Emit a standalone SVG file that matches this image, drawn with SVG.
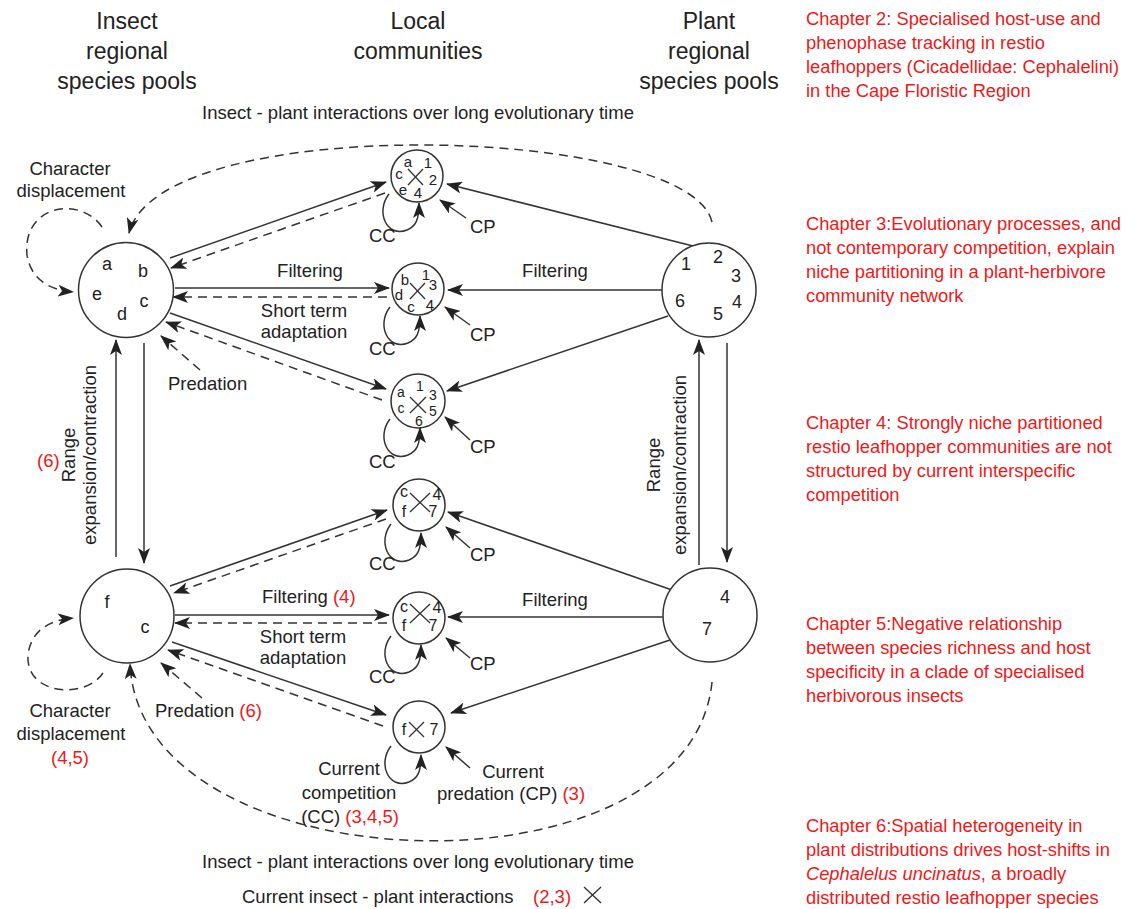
<svg xmlns="http://www.w3.org/2000/svg" width="1142" height="909" viewBox="0 0 1142 909">
<defs>
<marker id="ah" viewBox="0 0 16 12" refX="15" refY="6" markerWidth="16" markerHeight="12" markerUnits="userSpaceOnUse" orient="auto"><path d="M0,0 L16,6 L0,12 L4,6 z" fill="#222"/></marker>
<style>
text{font-family:"Liberation Sans",Arial,sans-serif;fill:#222}
.hd{font-size:23px;text-anchor:middle}
.lb{font-size:18.5px}
.c{text-anchor:middle}
.red{fill:#f01818}
.rc{font-size:18.3px;fill:#f01818}
.big{font-size:18px;text-anchor:middle}
.sm{font-size:15px;text-anchor:middle}
.sm3{font-size:14px;text-anchor:middle}
.sm2{font-size:16px;text-anchor:middle}
.nd{fill:#fff;stroke:#333;stroke-width:1.5}
.ln{fill:none;stroke:#333;stroke-width:1.5;marker-end:url(#ah)}
.ds{fill:none;stroke:#333;stroke-width:1.5;stroke-dasharray:9 6;marker-end:url(#ah)}
.x{stroke:#333;stroke-width:1.3}
</style>
</defs>
<rect width="1142" height="909" fill="#fff"/>

<g id="headers">
<text class="hd" x="127" y="29">Insect</text>
<text class="hd" x="127" y="59">regional</text>
<text class="hd" x="127" y="89">species pools</text>
<text class="hd" x="418" y="29">Local</text>
<text class="hd" x="418" y="59">communities</text>
<text class="hd" x="709" y="29">Plant</text>
<text class="hd" x="709" y="59">regional</text>
<text class="hd" x="709" y="89">species pools</text>
<text class="lb c" x="418" y="119">Insect - plant interactions over long evolutionary time</text>
</g>

<g id="connectors">
<path class="ds" d="M712 222 C690 125 160 110 129 233"/>
<path class="ds" d="M712 682 C690 905 140 888 130 664"/>
<path class="ds" d="M102 227 C80 195 22 205 27 255 C31 280 50 290 73 292"/>
<path class="ds" d="M103 673 C85 700 25 695 28 655 C31 630 50 620 73 618"/>
<path class="ln" d="M116 557 L116 340"/>
<path class="ln" d="M144 343 L144 563"/>
<path class="ln" d="M699 565 L699 340"/>
<path class="ln" d="M727 343 L727 562"/>
<path class="ln" d="M170 258 L386 182"/>
<path class="ds" d="M385 193 L171 268"/>
<path class="ln" d="M175 288 L389 288"/>
<path class="ds" d="M387 297 L173 297"/>
<path class="ln" d="M170 313 L386 389"/>
<path class="ds" d="M382 400 L166 322"/>
<path class="ds" d="M200 370 L161 336"/>
<path class="ln" d="M170 586 L387 510"/>
<path class="ds" d="M386 519 L174 593"/>
<path class="ln" d="M175 615 L389 615"/>
<path class="ds" d="M387 623 L175 623"/>
<path class="ln" d="M172 642 L386 715"/>
<path class="ds" d="M383 726 L168 650"/>
<path class="ds" d="M202 698 L161 663"/>
<path class="ln" d="M697 247 L447 184"/>
<path class="ln" d="M662 290 L448 290"/>
<path class="ln" d="M668 316 L447 391"/>
<path class="ln" d="M672 590 L448 512"/>
<path class="ln" d="M663 617 L448 617"/>
<path class="ln" d="M670 640 L451 713"/>
<path class="ln" d="M389 194 C375 212 387 238 407 230 C416 226 419 220 419 203"/>
<path class="ln" d="M390 307 C376 325 388 351 408 343 C417 339 420 333 420 316"/>
<path class="ln" d="M390 419 C376 437 388 463 408 455 C417 451 420 445 420 428"/>
<path class="ln" d="M391 524 C377 542 389 568 409 560 C418 556 421 550 421 533"/>
<path class="ln" d="M391 636 C377 654 389 680 409 672 C418 668 421 662 421 645"/>
<path class="ln" d="M391 746 C377 764 389 790 409 782 C418 778 421 772 421 755"/>
<path class="ln" d="M466 218 L440 200"/>
<path class="ln" d="M470 325 L445 307"/>
<path class="ln" d="M470 440 L445 417"/>
<path class="ln" d="M470 548 L446 527"/>
<path class="ln" d="M470 658 L446 638"/>
<path class="ln" d="M470 768 L446 747"/>
</g>

<g id="insect-pool-1">
<circle class="nd" cx="126" cy="290" r="47.5"/>
<text class="big" x="107" y="270">a</text>
<text class="big" x="143" y="277">b</text>
<text class="big" x="97" y="300">e</text>
<text class="big" x="144" y="307">c</text>
<text class="big" x="122" y="320">d</text>
</g>
<g id="insect-pool-2">
<circle class="nd" cx="127" cy="616" r="47"/>
<text class="big" x="107" y="608">f</text>
<text class="big" x="145" y="633">c</text>
</g>
<g id="plant-pool-1">
<circle class="nd" cx="709" cy="290" r="47"/>
<text class="big" x="686" y="270">1</text>
<text class="big" x="718" y="263">2</text>
<text class="big" x="736" y="282">3</text>
<text class="big" x="680" y="307">6</text>
<text class="big" x="737" y="308">4</text>
<text class="big" x="718" y="320">5</text>
</g>
<g id="plant-pool-2">
<circle class="nd" cx="710" cy="615" r="47"/>
<text class="big" x="725" y="603">4</text>
<text class="big" x="707" y="635">7</text>
</g>

<g id="community-1">
<circle class="nd" cx="417" cy="176" r="26"/>
<line class="x" x1="408" y1="169" x2="423" y2="185"/><line class="x" x1="408" y1="185" x2="423" y2="169"/>
<text class="sm" x="408" y="167">a</text><text class="sm" x="428" y="168">1</text>
<text class="sm" x="399" y="179">c</text><text class="sm" x="433" y="185">2</text>
<text class="sm" x="403" y="195">e</text><text class="sm" x="418" y="198">4</text>
</g>
<g id="community-2">
<circle class="nd" cx="418" cy="289" r="26"/>
<line class="x" x1="410" y1="283" x2="425" y2="299"/><line class="x" x1="410" y1="299" x2="425" y2="283"/>
<text class="sm" x="405" y="285">b</text><text class="sm" x="426" y="280">1</text>
<text class="sm" x="433" y="290">3</text><text class="sm" x="399" y="300">d</text>
<text class="sm" x="411" y="312">c</text><text class="sm" x="430" y="310">4</text>
</g>
<g id="community-3">
<circle class="nd" cx="418" cy="401" r="27"/>
<line class="x" x1="410" y1="397" x2="426" y2="413"/><line class="x" x1="410" y1="413" x2="426" y2="397"/>
<text class="sm3" x="420" y="391">1</text><text class="sm3" x="401" y="397">a</text>
<text class="sm3" x="433" y="400">3</text><text class="sm3" x="401" y="413">c</text>
<text class="sm3" x="433" y="416">5</text><text class="sm3" x="419" y="426">6</text>
</g>
<g id="community-4">
<circle class="nd" cx="419" cy="505" r="26"/>
<line class="x" x1="410" y1="493" x2="430" y2="512"/><line class="x" x1="410" y1="512" x2="430" y2="493"/>
<text class="sm2" x="404" y="497">c</text><text class="sm2" x="437" y="500">4</text>
<text class="sm2" x="404" y="517">f</text><text class="sm2" x="433" y="517">7</text>
</g>
<g id="community-5">
<circle class="nd" cx="419" cy="618" r="26"/>
<line class="x" x1="410" y1="604" x2="430" y2="623"/><line class="x" x1="410" y1="623" x2="430" y2="604"/>
<text class="sm2" x="404" y="612">c</text><text class="sm2" x="437" y="613">4</text>
<text class="sm2" x="404" y="631">f</text><text class="sm2" x="433" y="631">7</text>
</g>
<g id="community-6">
<circle class="nd" cx="419" cy="727" r="26"/>
<line class="x" x1="409" y1="722" x2="424" y2="737"/><line class="x" x1="409" y1="737" x2="424" y2="722"/>
<text class="sm2" x="404" y="735">f</text><text class="sm2" x="434" y="735">7</text>
</g>

<g id="labels">
<text class="lb c" x="70" y="175">Character</text>
<text class="lb c" x="71" y="197">displacement</text>
<text class="lb" x="168" y="390">Predation</text>
<text class="lb c" x="310" y="277">Filtering</text>
<text class="lb c" x="304" y="317">Short term</text>
<text class="lb c" x="304" y="338">adaptation</text>
<text class="lb c" x="555" y="277">Filtering</text>
<text class="lb c" transform="translate(75,455) rotate(-90)">Range</text>
<text class="lb c" transform="translate(96,455) rotate(-90)">expansion/contraction</text>
<text class="lb red" x="37" y="467">(6)</text>
<text class="lb c" transform="translate(660,465) rotate(-90)">Range</text>
<text class="lb c" transform="translate(686,465) rotate(-90)">expansion/contraction</text>
<text class="lb" x="262" y="603">Filtering <tspan class="red">(4)</tspan></text>
<text class="lb c" x="303" y="643">Short term</text>
<text class="lb c" x="303" y="664">adaptation</text>
<text class="lb c" x="555" y="606">Filtering</text>
<text class="lb" x="155" y="717">Predation <tspan class="red">(6)</tspan></text>
<text class="lb c" x="70" y="717">Character</text>
<text class="lb c" x="71" y="740">displacement</text>
<text class="lb c red" x="70" y="764">(4,5)</text>
<text class="lb" x="369" y="242">CC</text>
<text class="lb" x="369" y="355">CC</text>
<text class="lb" x="369" y="468">CC</text>
<text class="lb" x="369" y="570">CC</text>
<text class="lb" x="369" y="683">CC</text>
<text class="lb" x="470" y="233">CP</text>
<text class="lb" x="470" y="341">CP</text>
<text class="lb" x="470" y="453">CP</text>
<text class="lb" x="470" y="561">CP</text>
<text class="lb" x="470" y="670">CP</text>
<text class="lb c" x="349" y="775">Current</text>
<text class="lb c" x="349" y="799">competition</text>
<text class="lb c" x="350" y="823">(CC) <tspan class="red">(3,4,5)</tspan></text>
<text class="lb c" x="513" y="778">Current</text>
<text class="lb" x="437" y="800">predation (CP) <tspan class="red">(3)</tspan></text>
<text class="lb c" x="418" y="868">Insect - plant interactions over long evolutionary time</text>
<text class="lb" x="242" y="903">Current insect - plant interactions</text>
<text class="lb red" x="533" y="903">(2,3)</text>
<line class="x" x1="584" y1="887" x2="601" y2="903"/><line class="x" x1="584" y1="903" x2="601" y2="887"/>
</g>

<g id="chapters">
<text class="rc" x="806" y="25">Chapter 2: Specialised host-use and</text>
<text class="rc" x="806" y="49">phenophase tracking in restio</text>
<text class="rc" x="806" y="73">leafhoppers (Cicadellidae: Cephalelini)</text>
<text class="rc" x="806" y="97">in the Cape Floristic Region</text>
<text class="rc" x="806" y="230">Chapter 3:Evolutionary processes, and</text>
<text class="rc" x="806" y="254">not contemporary competition, explain</text>
<text class="rc" x="806" y="278">niche partitioning in a plant-herbivore</text>
<text class="rc" x="806" y="302">community network</text>
<text class="rc" x="806" y="429">Chapter 4: Strongly niche partitioned</text>
<text class="rc" x="806" y="453">restio leafhopper communities are not</text>
<text class="rc" x="806" y="477">structured by current interspecific</text>
<text class="rc" x="806" y="501">competition</text>
<text class="rc" x="806" y="630">Chapter 5:Negative relationship</text>
<text class="rc" x="806" y="654">between species richness and host</text>
<text class="rc" x="806" y="678">specificity in a clade of specialised</text>
<text class="rc" x="806" y="702">herbivorous insects</text>
<text class="rc" x="806" y="832">Chapter 6:Spatial heterogeneity in</text>
<text class="rc" x="806" y="856">plant distributions drives host-shifts in</text>
<text class="rc" x="806" y="880"><tspan font-style="italic">Cephalelus uncinatus</tspan>, a broadly</text>
<text class="rc" x="806" y="904">distributed restio leafhopper species</text>
</g>
</svg>
